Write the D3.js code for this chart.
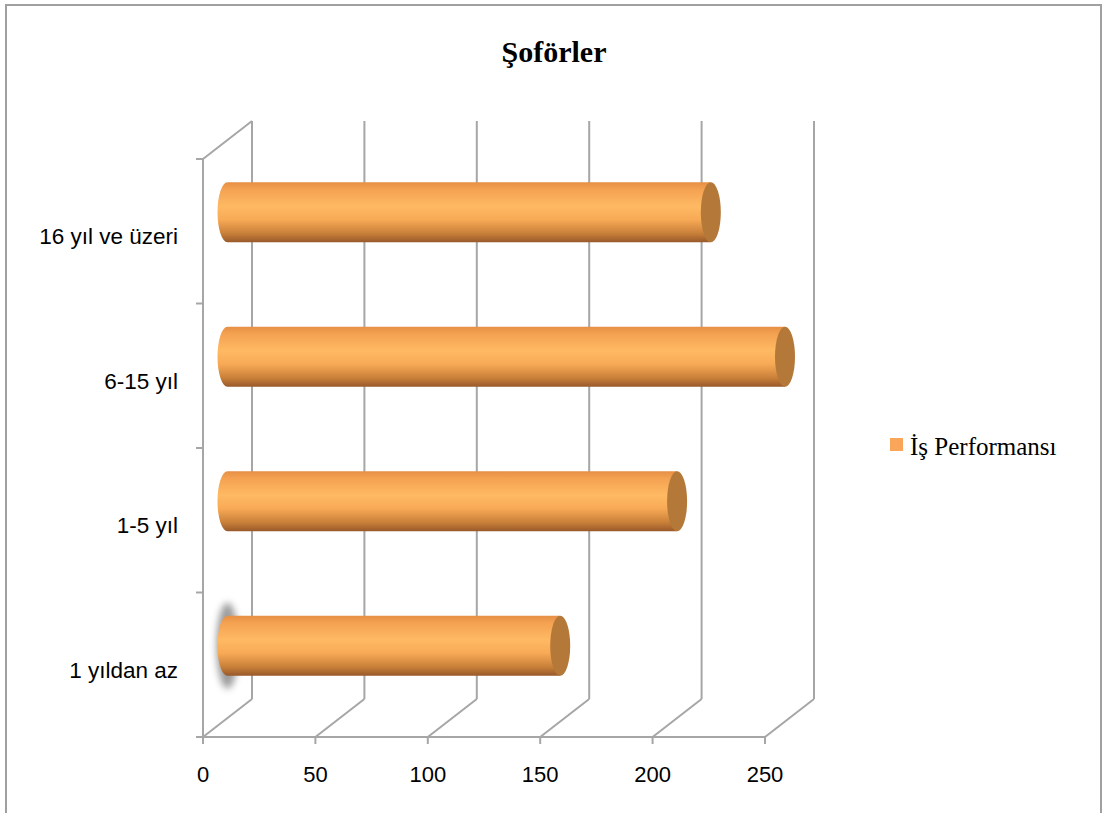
<!DOCTYPE html>
<html>
<head>
<meta charset="utf-8">
<script src="https://cdn.jsdelivr.net/npm/d3@7"></script>
<style>
  html, body { margin: 0; padding: 0; background: #fff; }
  svg { display: block; }
</style>
</head>
<body>
<svg id="chart" width="1103" height="813"></svg>
<script>
// Chart data
const categories = ["16 yıl ve üzeri", "6-15 yıl", "1-5 yıl", "1 yıldan az"];
const values = [215, 248, 200, 148];
const xTicks = [0, 50, 100, 150, 200, 250];
const seriesName = "İş Performansı";
const title = "Şoförler";

const svg = d3.select("#chart");
const W = 1103, H = 813;

// 3D depth offset of the back wall relative to the front plane
const depth = { dx: 49, dy: -38 };

const x = d3.scaleLinear().domain([0, 250]).range([203, 765]);
const y = d3.scaleBand().domain(categories).range([159, 737]).paddingInner(0).paddingOuter(0);

const gridColor = "#a6a6a6";
const defs = svg.append("defs");

// Cylinder body shading
const grad = defs.append("linearGradient")
  .attr("id", "cyl").attr("x1", 0).attr("y1", 0).attr("x2", 0).attr("y2", 1);
[[0, "#e68f45"], [0.12, "#f4a251"], [0.4, "#ffb963"], [0.62, "#f8aa56"],
 [0.85, "#c98039"], [1, "#98592a"]].forEach(([o, c]) =>
  grad.append("stop").attr("offset", o).attr("stop-color", c));

const blur = defs.append("filter").attr("id", "soft")
  .attr("x", "-100%").attr("y", "-50%").attr("width", "300%").attr("height", "200%");
blur.append("feGaussianBlur").attr("stdDeviation", 3.5);

// Outer frame
svg.append("path")
  .attr("d", `M6,${H} L6,5 L1101,5 L1101,${H}`)
  .attr("fill", "none").attr("stroke", "#a0a0a0").attr("stroke-width", 2);

// Title
svg.append("text")
  .attr("x", 554).attr("y", 62)
  .attr("text-anchor", "middle")
  .attr("font-family", "'Liberation Serif', 'Times New Roman', serif")
  .attr("font-weight", "bold").attr("font-size", 30)
  .text(title);

const yTop = y.range()[0], yBot = y.range()[1];
const grid = svg.append("g").attr("stroke", gridColor).attr("stroke-width", 2).attr("fill", "none");

// Back wall verticals
xTicks.forEach(t => {
  grid.append("line")
    .attr("x1", x(t) + depth.dx).attr("x2", x(t) + depth.dx)
    .attr("y1", yTop + depth.dy).attr("y2", yBot + depth.dy);
});
// Floor diagonals
xTicks.forEach(t => {
  grid.append("line")
    .attr("x1", x(t)).attr("y1", yBot)
    .attr("x2", x(t) + depth.dx).attr("y2", yBot + depth.dy);
});
// Left side wall: front edge and top diagonal
grid.append("line").attr("x1", x(0)).attr("x2", x(0)).attr("y1", yTop).attr("y2", yBot);
grid.append("line").attr("x1", x(0)).attr("y1", yTop)
  .attr("x2", x(0) + depth.dx).attr("y2", yTop + depth.dy);
// Front floor edge
grid.append("line").attr("x1", x(0)).attr("x2", x(250)).attr("y1", yBot).attr("y2", yBot);

// Category axis ticks
const bounds = categories.map(c => y(c)).concat([yBot]);
bounds.forEach(b => {
  grid.append("line").attr("x1", x(0) - 7).attr("x2", x(0)).attr("y1", b).attr("y2", b);
});
// Value axis ticks
xTicks.forEach(t => {
  grid.append("line").attr("x1", x(t)).attr("x2", x(t)).attr("y1", yBot).attr("y2", yBot + 7);
});

// Value axis labels
svg.append("g").selectAll("text").data(xTicks).join("text")
  .attr("x", d => x(d)).attr("y", yBot + 45)
  .attr("text-anchor", "middle")
  .attr("font-family", "'Liberation Sans', Arial, sans-serif").attr("font-size", 22)
  .attr("fill", "#000")
  .text(d => d);

// Category labels
svg.append("g").selectAll("text").data(categories).join("text")
  .attr("x", 178)
  .attr("y", d => y(d) + y.bandwidth() / 2 + 13)
  .attr("text-anchor", "end")
  .attr("font-family", "'Liberation Sans', Arial, sans-serif").attr("font-size", 22.5)
  .attr("fill", "#000")
  .text(d => d);

// Cylinders, placed at mid depth
const R = 30, capRx = 10;
const bars = svg.append("g");
categories.forEach((c, i) => {
  const cy = y(c) + y.bandwidth() / 2 + depth.dy / 2;
  const x0 = x(0) + depth.dx / 2;
  const x1 = x(values[i]) + depth.dx / 2;
  const g = bars.append("g");
  if (i === categories.length - 1) {
    g.append("ellipse")
      .attr("cx", x0).attr("cy", cy).attr("rx", capRx + 1).attr("ry", R + 13)
      .attr("fill", "#8a8a8a").attr("opacity", 0.85).attr("filter", "url(#soft)");
  }
  g.append("path")
    .attr("d", `M${x1},${cy - R} L${x0},${cy - R} A${capRx},${R} 0 0 0 ${x0},${cy + R} L${x1},${cy + R} Z`)
    .attr("fill", "url(#cyl)");
  g.append("ellipse")
    .attr("cx", x1).attr("cy", cy).attr("rx", capRx).attr("ry", R)
    .attr("fill", "#b47939");
});

// Legend
svg.append("rect").attr("x", 890).attr("y", 438).attr("width", 13).attr("height", 13).attr("fill", "#f9a65a");
svg.append("text")
  .attr("x", 910).attr("y", 455)
  .attr("font-family", "'Liberation Serif', 'Times New Roman', serif").attr("font-size", 25)
  .text(seriesName);
</script>
</body>
</html>
